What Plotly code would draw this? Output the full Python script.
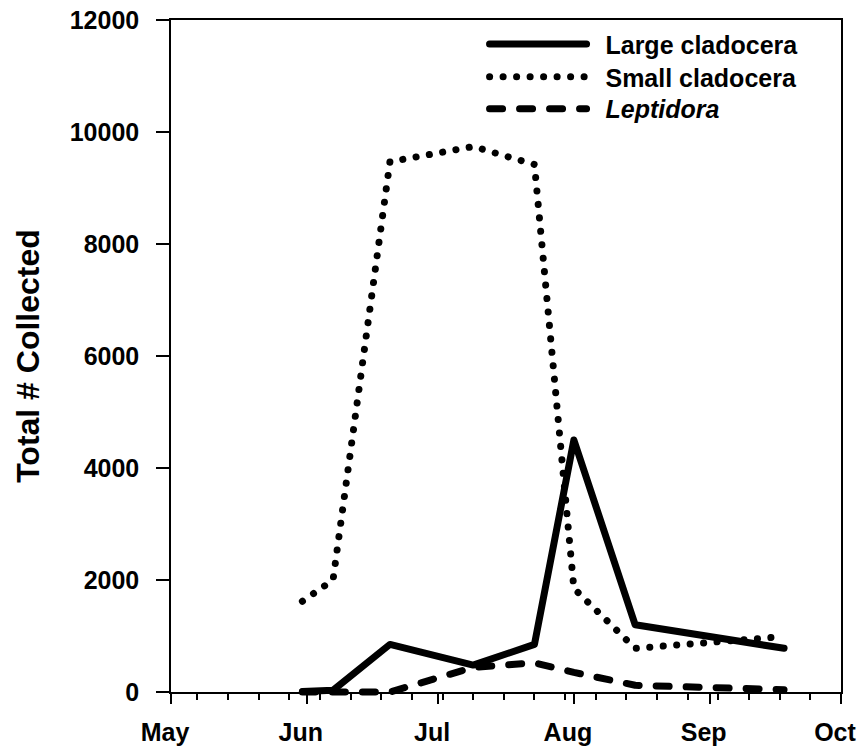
import plotly.graph_objects as go

# Sampling dates and totals
dates = ["2001-05-31", "2001-06-07", "2001-06-20", "2001-07-09",
         "2001-07-23", "2001-08-01", "2001-08-15", "2001-09-18"]
large_cladocera = [10, 30, 850, 480, 850, 4500, 1200, 780]
small_cladocera = [1620, 2000, 9470, 9740, 9420, 1850, 780, 990]
leptidora = [0, 0, 0, 440, 520, 350, 120, 40]

month_ticks = ["2001-05-01", "2001-06-01", "2001-07-01", "2001-08-01",
               "2001-09-01", "2001-10-01"]
month_labels = ["May", "Jun", "Jul", "Aug", "Sep", "Oct"]
y_ticks = [0, 2000, 4000, 6000, 8000, 10000, 12000]
y_labels = ["0", "2000", "4000", "6000", "8000", "10000", "12000"]

FONT = "Liberation Sans, Arial, sans-serif"
NB = "\u00a0\u00a0"

fig = go.Figure()
fig.add_trace(go.Scatter(x=dates, y=large_cladocera, mode="lines",
                         name=NB + "Large cladocera", legend="legend",
                         line=dict(color="black", width=7)))
fig.add_trace(go.Scatter(x=dates, y=small_cladocera, mode="lines",
                         name=NB + "Small cladocera", legend="legend2",
                         line=dict(color="black", width=7, dash="0.1px,13.4px")))
fig.add_trace(go.Scatter(x=dates, y=leptidora, mode="lines",
                         name=NB + "<i>Leptidora</i>", legend="legend3",
                         line=dict(color="black", width=7, dash="13px,17px")))

def leg(ypos):
    return dict(x=0.468, y=ypos, xanchor="left", yanchor="middle",
                bgcolor="rgba(0,0,0,0)", borderwidth=0,
                font=dict(family=FONT, size=25, weight="bold", color="black"),
                itemwidth=97)

fig.update_layout(
    width=859, height=748,
    margin=dict(l=171, r=18, t=20, b=56, autoexpand=False),
    plot_bgcolor="white", paper_bgcolor="white",
    font=dict(family=FONT, color="black"),
    showlegend=True,
    legend=leg(0.964), legend2=leg(0.915), legend3=leg(0.8676),
)
fig.update_xaxes(
    type="date", range=["2001-05-01", "2001-10-01"],
    tickmode="array", tickvals=month_ticks, ticktext=month_labels,
    ticks="outside", ticklen=10, tickwidth=1.5, tickcolor="black",
    ticklabelshift=-6, ticklabelstandoff=7,
    minor=dict(ticks="outside", ticklen=6, tickwidth=1.5, tickcolor="black",
               dtick=7 * 86400000, tick0="2001-05-07", showgrid=False),
    showline=True, linewidth=1.5, linecolor="black", mirror=True,
    showgrid=False, zeroline=False, automargin=False,
    tickfont=dict(family=FONT, size=25, weight="bold", color="black"),
)
fig.update_yaxes(
    range=[0, 12000], tickmode="array", tickvals=y_ticks, ticktext=y_labels,
    ticks="outside", ticklen=13, tickwidth=1.5, tickcolor="black",
    ticklabelstandoff=12,
    showline=True, linewidth=1.5, linecolor="black", mirror=True,
    showgrid=False, zeroline=False, automargin=False,
    tickfont=dict(family=FONT, size=25, weight="bold", color="black"),
    title=dict(text="Total # Collected", standoff=21,
               font=dict(family=FONT, size=32, weight="bold", color="black")),
)

post = ("var s=document.createElement('style');"
        "s.textContent='.js-line{stroke-linecap:round;stroke-linejoin:round}"
        " .cartesianlayer [clip-path]{clip-path:none !important}';"
        "document.head.appendChild(s);")
fig.write_html("out.html", post_script=post)
